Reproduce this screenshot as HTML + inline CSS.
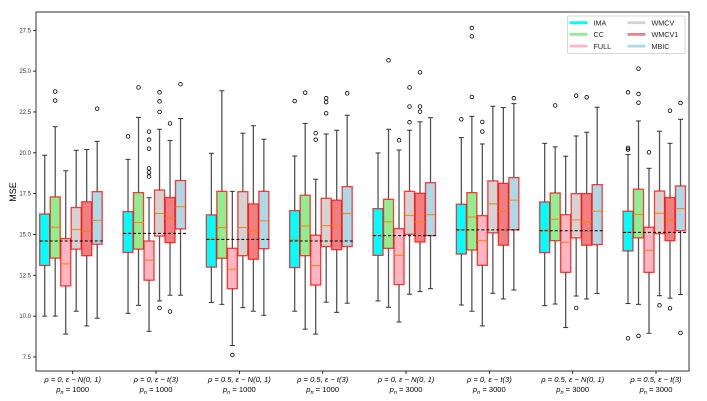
<!DOCTYPE html>
<html><head><meta charset="utf-8"><style>
body{margin:0;background:#fff;}
svg{display:block;font-family:"Liberation Sans","DejaVu Sans",sans-serif;}
</style></head><body>
<svg id="chart" width="707" height="401" viewBox="0 0 707 401"></svg>
<script>
const categories=[["ρ = 0,  ε ~ N(0, 1)","1000"],["ρ = 0,  ε ~ t(3)","1000"],["ρ = 0.5,  ε ~ N(0, 1)","1000"],["ρ = 0.5,  ε ~ t(3)","1000"],["ρ = 0,  ε ~ N(0, 1)","3000"],["ρ = 0,  ε ~ t(3)","3000"],["ρ = 0.5,  ε ~ N(0, 1)","3000"],["ρ = 0.5,  ε ~ t(3)","3000"]];
const methods=["IMA","CC","FULL","WMCV","WMCV1","MBIC"];
const methodColors=["#00ffff","#90ee90","#ffb6c1","#d3d3d3","#f08080","#add8e6"];
const yTicks=[7.5,10.0,12.5,15.0,17.5,20.0,22.5,25.0,27.5];
// each box: [low whisker, q1, median, q3, high whisker]
const stats=[
[[10.0,13.1,14.6,16.25,19.85],[10.0,13.55,15.45,17.3,21.6],[8.9,11.85,13.2,14.75,18.9],[10.3,14.1,15.3,16.65,20.15],[9.4,13.7,15.2,17.0,20.2],[9.87,14.4,15.87,17.62,20.7]],
[[10.17,13.9,15.07,16.4,19.6],[10.66,14.1,15.73,17.56,22.17],[9.07,12.2,13.42,14.6,17.25],[10.93,14.9,16.28,17.72,21.44],[11.28,14.5,16.0,17.26,20.75],[11.28,15.34,16.7,18.3,22.1]],
[[10.83,13.0,14.7,16.2,19.97],[10.72,13.54,15.42,17.64,23.8],[8.2,11.68,12.87,14.15,17.64],[10.52,13.7,15.42,17.62,21.2],[10.3,13.48,15.23,16.87,21.66],[10.05,14.13,15.83,17.64,20.83]],
[[10.3,12.97,14.66,16.46,19.8],[9.2,13.7,15.52,17.4,21.8],[8.9,11.9,13.1,14.95,18.38],[10.85,14.26,15.54,17.21,21.15],[10.23,14.07,15.58,17.1,21.38],[10.79,14.26,16.28,17.93,22.3]],
[[10.93,13.72,14.93,16.58,19.99],[10.54,14.15,15.77,17.15,21.44],[9.64,11.93,13.72,15.36,20.17],[11.34,15.01,16.17,17.64,21.38],[11.5,14.54,15.77,17.52,21.9],[11.68,14.93,16.21,18.17,22.15]],
[[10.68,13.8,15.27,16.85,20.93],[10.3,14.05,16.07,17.56,22.23],[9.4,13.11,14.62,16.15,20.54],[11.4,15.1,16.87,18.28,22.85],[11.05,14.34,16.42,18.13,22.77],[11.6,15.28,17.1,18.48,23.01]],
[[10.64,13.89,15.26,16.99,20.58],[10.74,14.62,15.93,17.54,20.36],[9.3,12.68,14.52,16.21,19.79],[11.23,14.79,15.89,17.5,21.03],[11.05,14.34,15.77,17.5,21.26],[11.38,14.38,16.42,18.05,22.79]],
[[10.77,13.99,15.13,16.42,19.9],[10.72,14.79,16.23,17.77,21.95],[8.95,12.68,14.03,15.44,19.05],[11.25,15.05,16.3,17.66,21.32],[11.1,14.62,15.89,17.26,20.58],[11.32,15.23,16.58,17.97,22.05]]
];
const outliers=[
[[],[23.2,23.75],[],[],[],[22.7]],
[[21.0],[24.0],[18.55,18.8,19.05,20.25,20.8,21.3],[10.5,22.5,23.15,23.7],[10.28,21.8],[24.2]],
[[],[],[7.62],[],[],[]],
[[23.17],[23.68],[20.8,21.2],[22.42,23.1,23.34],[],[23.64]],
[[],[25.66],[20.77],[21.87,22.83,24.0],[22.52,22.83,24.93],[]],
[[22.05],[23.42,27.13,27.64],[21.3,21.89],[],[],[23.34]],
[[],[22.9],[],[10.5,23.5],[23.4],[]],
[[8.64,20.2,20.3,23.7],[8.79,23.07,23.6,25.15],[20.03],[10.66],[10.48,22.58],[8.97,23.05]]
];
const refLine=[14.6,15.07,14.7,14.6,14.93,15.28,15.23,15.13];

const NS="http://www.w3.org/2000/svg";
const svg=document.getElementById('chart');
const L=36,R=689,T=12,B=371,yMin=6.64,yMax=28.62;
function Y(v){return B-(v-yMin)/(yMax-yMin)*(B-T);}
function X(i){return 72.7+83.33*i;}
function boxX(i,k){return X(i)+(k-2.5)*10.5-1.75;}
function mk(tag,attrs,parent){const e=document.createElementNS(NS,tag);for(const a in attrs)e.setAttribute(a,attrs[a]);(parent||svg).appendChild(e);return e;}

yTicks.forEach(t=>{
  const g=mk('g',{});
  
  
  mk('line',{x1:L-3,x2:L,y1:Y(t),y2:Y(t),stroke:'#000','stroke-width':0.8},g);
  const tx=mk('text',{x:L-5,y:Y(t)+2,'font-size':6,'text-anchor':'end',fill:'#333'},g);
  tx.textContent=t.toFixed(1);
});
const yl=mk('text',{x:16,y:192,'font-size':9,'text-anchor':'middle',transform:'rotate(-90 16 192)'});


yl.textContent='MSE';

categories.forEach((c,i)=>{
  const g=mk('g',{});
  
  
  mk('line',{x1:X(i),x2:X(i),y1:B,y2:B+3,stroke:'#000','stroke-width':0.8},g);
  const t1=mk('text',{x:X(i),y:382,'font-size':7.6,'text-anchor':'middle','font-style':'italic'},g);
  t1.textContent=c[0];
  const t2=mk('text',{x:X(i),y:392,'font-size':7.6,'text-anchor':'middle'},g);
  const a=mk('tspan',{'font-style':'italic'},t2);a.textContent='p';
  const b=mk('tspan',{'font-style':'italic','font-size':5.5,dy:1.8},t2);b.textContent='n';
  const c2=mk('tspan',{dy:-1.8},t2);c2.textContent=' = '+c[1];
});

stats.forEach((grp,i)=>{
  grp.forEach((s,k)=>{
    const cx=boxX(i,k),w=10;
    const g=mk('g',{});
    
    
    mk('line',{x1:cx,x2:cx,y1:Y(s[0]),y2:Y(s[1]),stroke:'#555','stroke-width':1.3},g);
    mk('line',{x1:cx,x2:cx,y1:Y(s[3]),y2:Y(s[4]),stroke:'#555','stroke-width':1.3},g);
    mk('line',{x1:cx-2.5,x2:cx+2.5,y1:Y(s[0]),y2:Y(s[0]),stroke:'#333','stroke-width':1},g);
    mk('line',{x1:cx-2.5,x2:cx+2.5,y1:Y(s[4]),y2:Y(s[4]),stroke:'#333','stroke-width':1},g);
    mk('rect',{x:cx-w/2,y:Y(s[3]),width:w,height:Y(s[1])-Y(s[3]),fill:methodColors[k],stroke:'#ff0000','stroke-opacity':0.75,'stroke-width':1.3},g);
    mk('line',{x1:cx-w/2,x2:cx+w/2,y1:Y(s[2]),y2:Y(s[2]),stroke:'#ff7f0e','stroke-width':1},g);
    outliers[i][k].forEach(o=>{
      mk('circle',{cx:cx,cy:Y(o),r:1.8,fill:'none',stroke:'#000','stroke-width':0.8},g);
    });
  });
  const dl=mk('line',{x1:boxX(i,0)-5,x2:boxX(i,5)+6,y1:Y(refLine[i]),y2:Y(refLine[i]),stroke:'#000','stroke-width':1,'stroke-dasharray':'3,2'});
  
  
});

const fr=mk('rect',{x:L,y:T,width:R-L,height:B-T,fill:'none',stroke:'#000','stroke-width':0.8});



const lg=mk('g',{});


mk('rect',{x:567.5,y:16,width:117.5,height:37.5,fill:'#fff',stroke:'#ccc','stroke-width':0.8,rx:1.5},lg);
methods.forEach((m,k)=>{
  const col=k<3?0:1,row=k%3;
  const hx=col?627.5:569.5,ty=22.7+row*11.7;
  const e=mk('g',{},lg);
  
  
  mk('line',{x1:hx,x2:hx+18,y1:ty,y2:ty,stroke:methodColors[k],'stroke-width':2.8},e);
  const t=mk('text',{x:hx+24,y:ty+2.7,'font-size':7.2,fill:'#222'},e);
  t.textContent=m;
});
</script>
</body></html>
